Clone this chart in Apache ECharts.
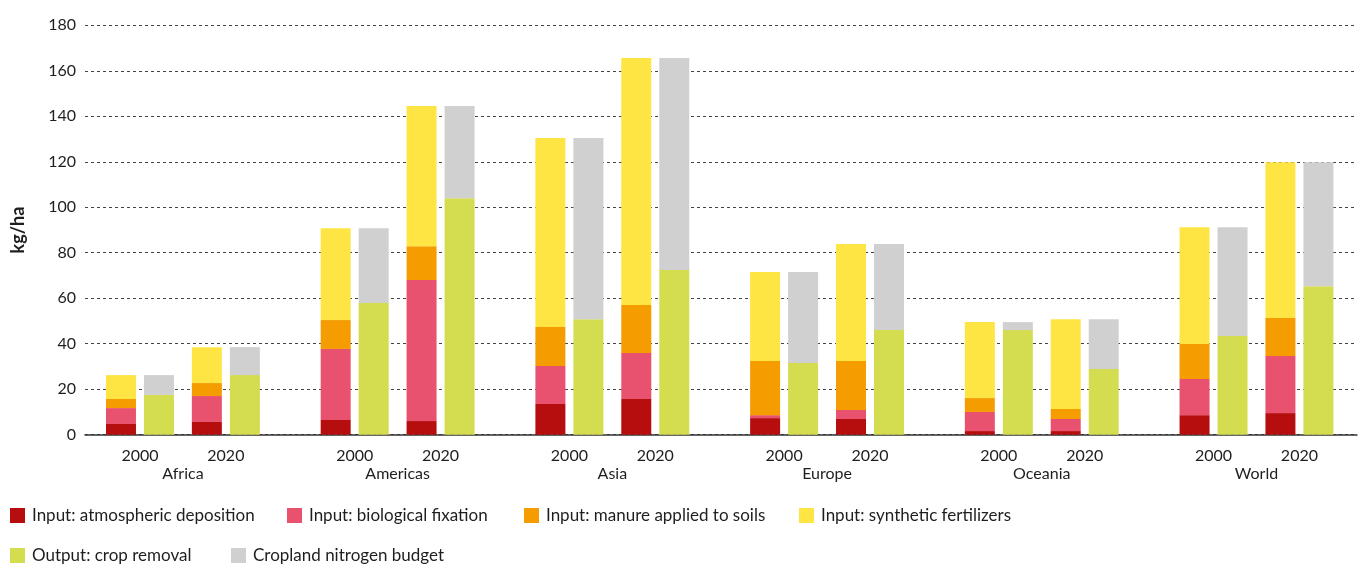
<!DOCTYPE html>
<html>
<head>
<meta charset="utf-8">
<script src="https://cdn.jsdelivr.net/npm/echarts@6/dist/echarts.min.js"></script>
<style>
html,body{margin:0;padding:0;background:#fff;}
#chart{width:1360px;height:566px;}
</style>
</head>
<body>
<div id="chart"></div>
<script>
// ---- data (kg/ha), one value per region-year pair ----
const regions = ['Africa', 'Americas', 'Asia', 'Europe', 'Oceania', 'World'];
const years = ['2000', '2020'];
const yTicks = [0, 20, 40, 60, 80, 100, 120, 140, 160, 180];

// order: Africa 2000, Africa 2020, Americas 2000, Americas 2020, ...
const atmosphericDeposition = [4.7, 5.6, 6.5, 6.0, 13.5, 15.7, 7.3, 6.9, 1.6, 1.6, 8.6, 9.5];
const biologicalFixation    = [7.0, 11.4, 31.2, 62.0, 16.7, 20.2, 1.3, 4.0, 8.4, 5.3, 15.9, 25.1];
const manureApplied         = [4.0, 5.7, 12.7, 14.9, 17.1, 21.1, 23.8, 21.5, 6.1, 4.4, 15.4, 16.7];
const syntheticFertilizers  = [10.5, 15.8, 40.4, 61.6, 83.1, 108.6, 39.1, 51.4, 33.4, 39.5, 51.3, 68.5];
const cropRemoval           = [17.5, 26.2, 57.9, 104.0, 50.8, 72.4, 31.5, 46.0, 46.0, 28.9, 43.4, 65.3];
const nitrogenBudget        = [8.7, 12.3, 32.9, 40.5, 79.6, 93.2, 40.0, 37.8, 3.5, 21.9, 47.8, 54.5];

const seriesNames = [
  'Input: atmospheric deposition',
  'Input: biological fixation',
  'Input: manure applied to soils',
  'Input: synthetic fertilizers',
  'Output: crop removal',
  'Cropland nitrogen budget'
];
const colors = ['#b60d0e', '#e9526e', '#f49c00', '#fee544', '#d4dc50', '#d0d0d0'];

// ---- category slots: per region [2000, (region label), 2020, gap, gap] ----
const cats = [];
const slotOfPair = [];
regions.forEach((r) => {
  cats.push(r + '|2000', r + '|region', r + '|2020', r + '|g1', r + '|g2');
});
cats.length = 28;
regions.forEach((r, i) => { slotOfPair.push(i * 5, i * 5 + 2); });

function spread(arr) {
  const out = cats.map(() => '-');
  arr.forEach((v, i) => { out[slotOfPair[i]] = v; });
  return out;
}

const FONT = 'Lato';
const TXT = '#1e1e1e';
const TOP = 25.3, BOTTOM = 131.3;

const stacks = ['in', 'in', 'in', 'in', 'out', 'out'];
const values = [atmosphericDeposition, biologicalFixation, manureApplied, syntheticFertilizers, cropRemoval, nitrogenBudget];

const series = seriesNames.map((n, k) => ({
  name: n,
  type: 'bar',
  xAxisIndex: 1,
  yAxisIndex: 1,
  stack: stacks[k],
  barWidth: 30,
  barGap: '26.67%',
  clip: false,
  itemStyle: { color: colors[k] },
  emphasis: { disabled: true },
  data: spread(values[k])
}));

const legendPos = [
  [10, 507], [287, 507], [524, 507], [799, 507],
  [10, 547], [231, 547]
];
const legends = seriesNames.map((n, k) => ({
  data: [n],
  left: legendPos[k][0],
  top: legendPos[k][1],
  padding: 0,
  itemWidth: 15,
  itemHeight: 15,
  icon: 'rect',
  selectedMode: false,
  textStyle: { fontFamily: FONT, fontSize: 17, color: TXT, padding: [0, 0, 0, 2] }
}));

const chart = echarts.init(document.getElementById('chart'), null, { renderer: 'canvas' });
chart.setOption({
  animation: false,
  color: colors,
  textStyle: { fontFamily: FONT },
  legend: legends,
  grid: [
    { left: 85, right: 3, top: TOP, bottom: BOTTOM },
    { left: 118.5, right: 39.1, top: TOP, bottom: BOTTOM }
  ],
  xAxis: [
    {
      gridIndex: 0, type: 'value', min: 0, max: 1,
      axisLine: { show: true, lineStyle: { color: '#333', width: 1.5 } },
      axisTick: { show: false }, axisLabel: { show: false }, splitLine: { show: false }
    },
    {
      gridIndex: 1, type: 'category', data: cats,
      axisLine: { show: false }, axisTick: { show: false },
      axisLabel: {
        interval: 0, margin: 12, fontFamily: FONT, fontSize: 16, color: TXT, lineHeight: 18,
        formatter: (v) => {
          const p = v.split('|');
          if (p[1] === '2000' || p[1] === '2020') return p[1];
          if (p[1] === 'region') return '\n' + p[0];
          return '';
        }
      }
    }
  ],
  yAxis: [
    {
      gridIndex: 0, type: 'value', min: yTicks[0], max: yTicks[yTicks.length - 1], interval: 20,
      name: 'kg/ha', nameLocation: 'middle', nameGap: 58,
      nameTextStyle: { fontFamily: FONT, fontSize: 18, fontWeight: 'bold', color: TXT },
      axisLine: { show: false }, axisTick: { show: false },
      axisLabel: { margin: 9, fontFamily: FONT, fontSize: 16, color: TXT },
      splitLine: { show: true, lineStyle: { color: '#444', width: 1, type: [3, 3] } }
    },
    {
      gridIndex: 1, type: 'value', min: yTicks[0], max: yTicks[yTicks.length - 1], interval: 20,
      show: false, splitLine: { show: false }
    }
  ],
  series: series
});
</script>
</body>
</html>
